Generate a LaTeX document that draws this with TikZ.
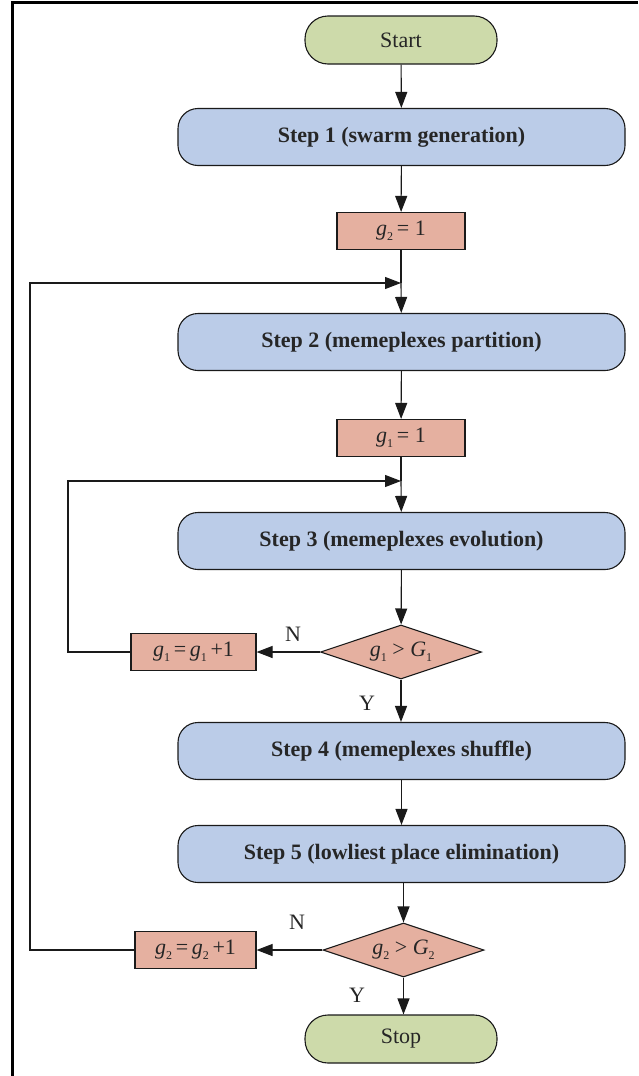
\documentclass[tikz,border=0pt]{standalone}
\usepackage{fontspec}
\setmainfont{Liberation Serif}
\usetikzlibrary{shapes.geometric,arrows.meta}
\definecolor{cgreen}{HTML}{CDDAAA}
\definecolor{cblue}{HTML}{BBCCE8}
\definecolor{csalmon}{HTML}{E5B0A0}
\definecolor{cline}{HTML}{1A1A1A}
\newcommand{\sv}[2]{\textit{#1}\raisebox{-0.45ex}{\fontsize{12}{12}\selectfont #2}}
\begin{document}
\begin{tikzpicture}[x=1pt,y=-1pt,
  every node/.style={font=\fontsize{22}{26}\selectfont, text=black!85},
  term/.style={draw=cline, line width=1.1pt, fill=cgreen, rounded corners=23pt, minimum width=192pt, minimum height=48pt},
  stepbox/.style={draw=cline, line width=1.1pt, fill=cblue, rounded corners=20pt, minimum width=447pt, minimum height=57pt, font=\fontsize{22}{26}\selectfont\bfseries},
  setbox/.style={draw=cline, line width=1.1pt, fill=csalmon, minimum height=37pt, inner sep=0pt},
  decis/.style={draw=cline, line width=1.1pt, fill=csalmon, diamond, aspect=3, minimum width=161pt, minimum height=54pt, inner sep=0pt},
  arr/.style={draw=cline, line width=1.1pt, -{Triangle[length=16pt,width=12pt]}},
  ln/.style={draw=cline, line width=1.1pt},
  lbl/.style={font=\fontsize{22}{26}\selectfont}
]
\useasboundingbox (0,0) rectangle (638,1076);
\draw[line width=2.2pt] (12.5,1076) -- (12.5,2.5) -- (638,2.5);

\node[term] (start) at (401,40) {Start};
\node[stepbox] (s1) at (401.5,137) {Step 1 (swarm generation)};
\node[setbox, minimum width=128pt] (g2init) at (401,231) {\sv{g}{2}\,= 1};
\coordinate (j2) at (401,283);
\node[stepbox] (s2) at (401.5,342) {Step 2 (memeplexes partition)};
\node[setbox, minimum width=128pt] (g1init) at (401,438) {\sv{g}{1}\,= 1};
\coordinate (j1) at (401,481);
\node[stepbox] (s3) at (401.5,541) {Step 3 (memeplexes evolution)};
\node[decis] (d1) at (401,652) {\sv{g}{1} > \sv{G}{1}};
\node[setbox, minimum width=125pt] (inc1) at (193.5,652) {\sv{g}{1}\,=\,\sv{g}{1}\,+1};
\node[stepbox] (s4) at (401.5,751) {Step 4 (memeplexes shuffle)};
\node[stepbox] (s5) at (401.5,854) {Step 5 (lowliest place elimination)};
\node[decis] (d2) at (403.5,950) {\sv{g}{2} > \sv{G}{2}};
\node[setbox, minimum width=121pt] (inc2) at (195.5,950) {\sv{g}{2}\,=\,\sv{g}{2}\,+1};
\node[term] (stop) at (401,1039) {Stop};

\node[lbl] (n1) at (293,634) {N};
\node[lbl] (y1) at (367,703) {Y};
\node[lbl] (n2) at (297,922) {N};
\node[lbl] (y2) at (357,995) {Y};

\draw[arr] (start) -- (s1);
\draw[arr] (s1) -- (g2init);
\draw[ln] (g2init) -- (j2);
\draw[arr] (j2) -- (s2);
\draw[arr] (s2) -- (g1init);
\draw[ln] (g1init) -- (j1);
\draw[arr] (j1) -- (s3);
\draw[arr] (s3) -- (d1);
\draw[arr] (d1) -- (inc1);
\draw[arr] (d1) -- (d1 |- s4.north);
\draw[arr] (inc1.west) -- (68,652) -- (68,481) -- (j1);
\draw[arr] (s4) -- (s5);
\draw[arr] (s5.south -| d2) -- (d2);
\draw[arr] (d2) -- (inc2);
\draw[arr] (d2) -- (d2 |- stop.north);
\draw[arr] (inc2.west) -- (30,950) -- (30,283) -- (j2);
\end{tikzpicture}
\end{document}
